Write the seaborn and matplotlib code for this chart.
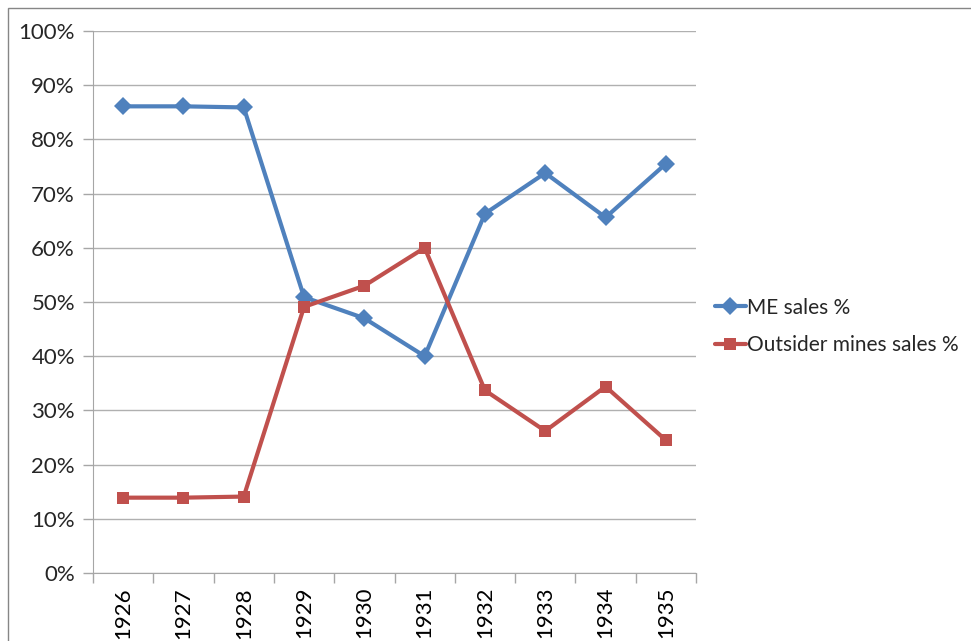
import matplotlib
matplotlib.use("Agg")
import matplotlib.pyplot as plt
import matplotlib.patches as mpatches
from matplotlib.ticker import FixedLocator, PercentFormatter
import seaborn as sns
import pandas as pd

years = ['1926', '1927', '1928', '1929', '1930', '1931', '1932', '1933', '1934', '1935']
me_sales = [86.1, 86.1, 85.9, 50.9, 47.0, 40.0, 66.3, 73.8, 65.6, 75.5]
outsider_sales = [13.9, 13.9, 14.1, 49.1, 53.0, 60.0, 33.7, 26.2, 34.4, 24.5]
series_names = ['ME sales %', 'Outsider mines sales %']


def main():
    df = pd.concat([
        pd.DataFrame({'year': years, 'pct': me_sales, 'series': series_names[0]}),
        pd.DataFrame({'year': years, 'pct': outsider_sales, 'series': series_names[1]}),
    ], ignore_index=True)

    sns.set_style('white')
    plt.rcParams['font.family'] = ['Lato', 'DejaVu Sans']

    fig = plt.figure(figsize=(9.71, 6.41), dpi=100)
    ax = fig.add_axes([93 / 971, 68 / 641, 603 / 971, 542 / 641])

    # outer chart border
    fig.patches.append(mpatches.Rectangle((8 / 971, -0.1), 1.2, 1.1 - 8 / 641,
                                          transform=fig.transFigure, fill=False,
                                          edgecolor='#868686', linewidth=1))

    sns.lineplot(data=df, x='year', y='pct', hue='series', style='series',
                 palette=['#4F81BD', '#C0504D'], markers=['D', 's'], dashes=False,
                 linewidth=3.0, markersize=9, markeredgewidth=0, ax=ax)

    ax.set_xlim(-0.5, len(years) - 0.5)
    ax.set_ylim(0, 100)
    ax.yaxis.set_major_locator(FixedLocator(range(0, 101, 10)))
    ax.yaxis.set_major_formatter(PercentFormatter(decimals=0))
    ax.grid(axis='y', color='#B0B0B0', linewidth=1)
    ax.set_axisbelow(True)

    ax.set_xticks(range(len(years)))
    ax.set_xticklabels(years, rotation=90)
    ax.xaxis.set_minor_locator(FixedLocator([i - 0.5 for i in range(len(years) + 1)]))
    ax.tick_params(axis='x', which='major', length=0, pad=10, labelsize=16, colors='black')
    ax.tick_params(axis='x', which='minor', length=7, width=1, color='#A6A6A6', bottom=True)
    ax.tick_params(axis='y', which='major', length=7, width=1, color='#A6A6A6', left=True,
                   labelsize=16, pad=6)

    for side in ['top', 'right']:
        ax.spines[side].set_visible(False)
    ax.spines['left'].set_color('#A6A6A6')
    ax.spines['bottom'].set_color('#A6A6A6')

    ax.set_xlabel('')
    ax.set_ylabel('')

    handles, labels = ax.get_legend_handles_labels()
    ax.legend(handles, labels, loc='center left', bbox_to_anchor=(1.0, 0.455),
              frameon=False, fontsize=15, handlelength=1.5, handletextpad=0.05,
              labelspacing=0.85, borderaxespad=0.5)

    fig.savefig('out.png', dpi=100)


if __name__ == "__main__":
    main()
